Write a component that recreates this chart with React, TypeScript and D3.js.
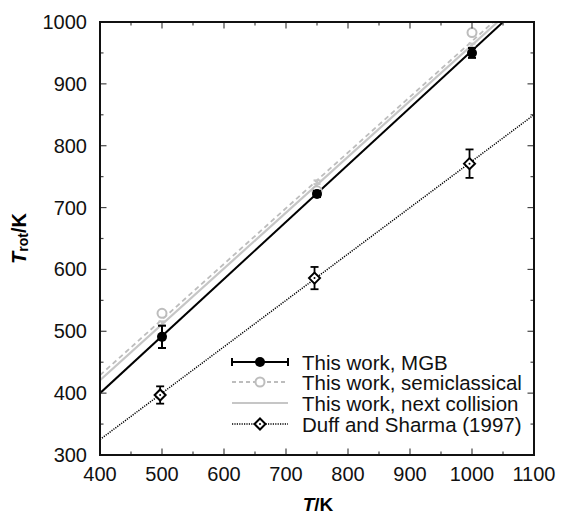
import React from "react";
import * as d3 from "d3";

// Rotational temperature vs. translational temperature
const xTicks = [400, 500, 600, 700, 800, 900, 1000, 1100];
const yTicks = [300, 400, 500, 600, 700, 800, 900, 1000];

// Measured points (T, Trot, error)
const mgbPoints = [
  { t: 500, v: 491, err: 18 },
  { t: 750, v: 722, err: 5 },
  { t: 1000, v: 950, err: 8 },
];
const semiPoints = [
  { t: 500, v: 529 },
  { t: 750, v: 727 },
  { t: 1000, v: 983 },
];
const nextPoints = [
  { t: 500, v: 513 },
  { t: 750, v: 741 },
  { t: 1000, v: 962 },
];
const duffPoints = [
  { t: 497, v: 397, err: 14 },
  { t: 746, v: 586, err: 18 },
  { t: 996, v: 771, err: 23 },
];

// Linear fits, given by their end points
const mgbFit = [[400, 400], [1100, 1046]];
const semiFit = [[400, 429], [1100, 1059]];
const nextFit = [[400, 421], [1100, 1053]];
const duffFit = [[400, 325], [1100, 850]];

const legendLabels = [
  "This work, MGB",
  "This work, semiclassical",
  "This work, next collision",
  "Duff and Sharma (1997)",
];

const W = 563;
const H = 515;
const PL = 100, PR = 534, PT = 22, PB = 455;
const FONT = "'Liberation Sans', Arial, Helvetica, sans-serif";
const GRAY_SEMI = "#bdbdbd";
const GRAY_NEXT = "#c6c6c6";

export default function App() {
  const x = d3.scaleLinear().domain([400, 1100]).range([PL, PR]);
  const y = d3.scaleLinear().domain([300, 1000]).range([PB, PT]);
  const line = d3
    .line<number[]>()
    .x((d) => x(d[0]))
    .y((d) => y(d[1]));

  const xMinor = d3.range(400, 1101, 50);
  const yMinor = d3.range(300, 1001, 50);
  const isMajor = (v: number) => v % 100 === 0;
  const tickColor = "#444";

  const errBar = (cx: number, lo: number, hi: number, color: string, key: string, cap = 4, sw = 2) => (
    <g key={key} stroke={color} strokeWidth={sw} fill="none">
      <line x1={cx} x2={cx} y1={lo} y2={hi} />
      <line x1={cx - cap} x2={cx + cap} y1={lo} y2={lo} />
      <line x1={cx - cap} x2={cx + cap} y1={hi} y2={hi} />
    </g>
  );

  const diamond = (cx: number, cy: number, key: string) => (
    <g key={key}>
      <path
        d={`M${cx},${cy - 5.5}L${cx + 5.5},${cy}L${cx},${cy + 5.5}L${cx - 5.5},${cy}Z`}
        fill="white"
        stroke="black"
        strokeWidth={2}
      />
      <circle cx={cx} cy={cy} r={1} fill="black" />
    </g>
  );

  const legendY = [362, 382, 403, 424];
  const lx1 = 232, lx2 = 288, lmx = 260, ltx = 302;

  return (
    <div style={{ position: "absolute", left: 0, top: 0 }}>
      <svg width={W} height={H} viewBox={`0 0 ${W} ${H}`} style={{ display: "block", background: "white" }}>
        <defs>
          <clipPath id="plotClip">
            <rect x={PL} y={PT} width={PR - PL} height={PB - PT} />
          </clipPath>
        </defs>

        {/* fit lines */}
        <g clipPath="url(#plotClip)" fill="none">
          <path d={line(duffFit) || ""} stroke="black" strokeWidth={1.5} strokeDasharray="1.2,1.2" />
          <path d={line(nextFit) || ""} stroke={GRAY_NEXT} strokeWidth={2.2} />
          <path d={line(semiFit) || ""} stroke={GRAY_SEMI} strokeWidth={1.8} strokeDasharray="5,3.5" />
          <path d={line(mgbFit) || ""} stroke="black" strokeWidth={2} />
        </g>

        {/* Duff and Sharma points */}
        {duffPoints.map((p, i) =>
          errBar(x(p.t), y(p.v - p.err), y(p.v + p.err), "black", "de" + i, 4, 1.8)
        )}
        {duffPoints.map((p, i) => diamond(x(p.t), y(p.v), "dm" + i))}

        {/* next collision points */}
        {nextPoints.map((p, i) =>
          errBar(x(p.t), y(p.v - 3), y(p.v + 3), GRAY_NEXT, "ne" + i, 3.5, 2)
        )}

        {/* semiclassical points */}
        {semiPoints.map((p, i) => (
          <circle key={"sc" + i} cx={x(p.t)} cy={y(p.v)} r={4.5} fill="white" stroke={GRAY_SEMI} strokeWidth={2} />
        ))}

        {/* MGB points */}
        {mgbPoints.map((p, i) =>
          errBar(x(p.t), y(p.v - p.err), y(p.v + p.err), "black", "me" + i, 4, 2)
        )}
        {mgbPoints.map((p, i) => (
          <circle key={"mc" + i} cx={x(p.t)} cy={y(p.v)} r={5} fill="black" />
        ))}

        {/* ticks on all four sides, pointing inward */}
        <g stroke={tickColor} strokeWidth={1.2}>
          {xMinor.map((v) => {
            const len = isMajor(v) ? 6.5 : 3.5;
            return (
              <g key={"xt" + v}>
                <line x1={x(v)} x2={x(v)} y1={PB} y2={PB - len} />
                <line x1={x(v)} x2={x(v)} y1={PT} y2={PT + len} />
              </g>
            );
          })}
          {yMinor.map((v) => {
            const len = isMajor(v) ? 6.5 : 3.5;
            return (
              <g key={"yt" + v}>
                <line x1={PL} x2={PL + len} y1={y(v)} y2={y(v)} />
                <line x1={PR} x2={PR - len} y1={y(v)} y2={y(v)} />
              </g>
            );
          })}
        </g>

        {/* frame */}
        <rect x={PL} y={PT} width={PR - PL} height={PB - PT} fill="none" stroke="#111" strokeWidth={2} />

        {/* tick labels */}
        <g fontFamily={FONT} fontSize={20} fill="#111">
          {xTicks.map((v) => (
            <text key={"xl" + v} x={x(v)} y={481} textAnchor="middle">
              {v}
            </text>
          ))}
          {yTicks.map((v) => (
            <text key={"yl" + v} x={87} y={y(v)} textAnchor="end" dominantBaseline="central">
              {v}
            </text>
          ))}
        </g>

        {/* axis titles */}
        <text x={(PL + PR) / 2 + 1} y={511} textAnchor="middle" fontFamily={FONT} fontSize={19} fontWeight="bold">
          <tspan fontStyle="italic">T</tspan>/K
        </text>
        <text
          transform={`translate(26,${(PT + PB) / 2}) rotate(-90)`}
          textAnchor="middle"
          fontFamily={FONT}
          fontSize={20}
          fontWeight="bold"
        >
          <tspan fontStyle="italic">T</tspan>
          <tspan fontSize={14} dy={2}>rot</tspan>
          <tspan dy={-2}>/K</tspan>
        </text>

        {/* legend */}
        <g>
          <line x1={lx1} x2={lx2} y1={legendY[0]} y2={legendY[0]} stroke="black" strokeWidth={2} />
          <line x1={lx1} x2={lx1} y1={legendY[0] - 4} y2={legendY[0] + 4} stroke="black" strokeWidth={2} />
          <line x1={lx2} x2={lx2} y1={legendY[0] - 4} y2={legendY[0] + 4} stroke="black" strokeWidth={2} />
          <circle cx={lmx} cy={legendY[0]} r={5} fill="black" />

          <line x1={lx1} x2={lx2} y1={legendY[1]} y2={legendY[1]} stroke={GRAY_SEMI} strokeWidth={1.8} strokeDasharray="4,3" />
          <circle cx={lmx} cy={legendY[1]} r={4.5} fill="white" stroke={GRAY_SEMI} strokeWidth={2} />

          <line x1={lx1} x2={lx2} y1={legendY[2]} y2={legendY[2]} stroke={GRAY_NEXT} strokeWidth={2.2} />

          <line x1={lx1} x2={lx2} y1={legendY[3]} y2={legendY[3]} stroke="black" strokeWidth={1.5} strokeDasharray="1.2,1.2" />
          {diamond(lmx, legendY[3], "legd")}

          <g fontFamily={FONT} fontSize={20.5} fill="#111">
            {legendLabels.map((s, i) => (
              <text key={"lg" + i} x={ltx} y={legendY[i]} dominantBaseline="central">
                {s}
              </text>
            ))}
          </g>
        </g>
      </svg>
    </div>
  );
}
